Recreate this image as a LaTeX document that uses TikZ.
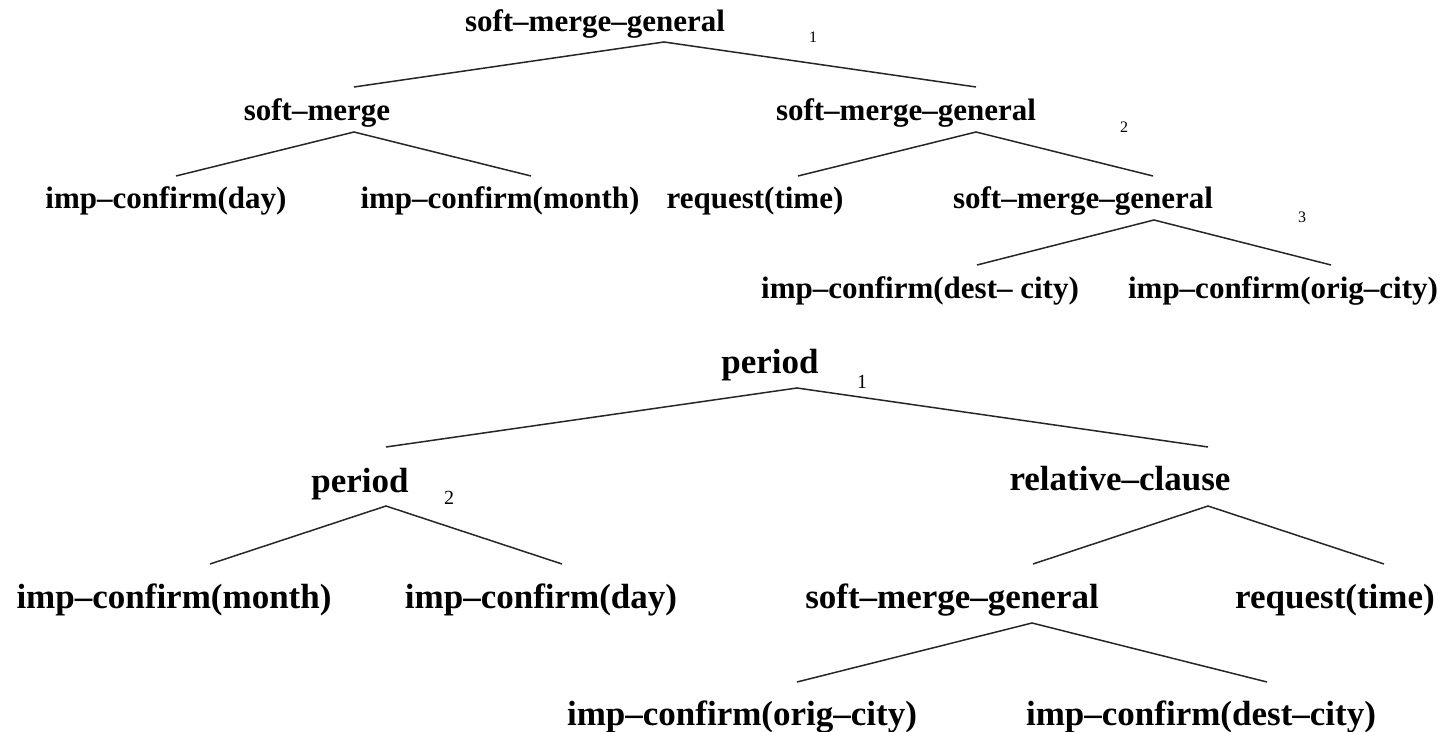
\documentclass[tikz,border=0pt]{standalone}
\usepackage{fontspec}
\setmainfont{Liberation Serif}
\begin{document}
\begin{tikzpicture}[x=0.5pt,y=-0.5pt,
  lbl/.style={font=\fontsize{15.5}{18}\selectfont\bfseries, inner sep=0pt, anchor=base},
  lblb/.style={font=\fontsize{17.5}{20}\selectfont\bfseries, inner sep=0pt, anchor=base},
  num/.style={font=\fontsize{8}{9}\selectfont, inner sep=0pt},
  numb/.style={font=\fontsize{10}{12}\selectfont, inner sep=0pt},
  edge/.style={line width=0.75pt, draw=black!85}]
\useasboundingbox (0,0) rectangle (1443,732);

% ---------- upper tree ----------
\node[lbl] (t-root)  at (595,32)  {soft--merge--general};
\node[num] (t-n1)    at (813,37)  {1};
\node[lbl] (t-sm)    at (317,121) {soft--merge};
\node[lbl] (t-smg2)  at (906,121) {soft--merge--general};
\node[num] (t-n2)    at (1124,127) {2};
\node[lbl] (t-day)   at (166,209) {imp--confirm(day)};
\node[lbl] (t-month) at (500,209) {imp--confirm(month)};
\node[lbl] (t-req)   at (755,209) {request(time)};
\node[lbl] (t-smg3)  at (1083,209) {soft--merge--general};
\node[num] (t-n3)    at (1302,217) {3};
\node[lbl] (t-dest)  at (920,299) {imp--confirm(dest-- city)};
\node[lbl] (t-orig)  at (1283,299) {imp--confirm(orig--city)};

% branch points of the upper tree
\coordinate (t-root-a)  at (664,42);
\coordinate (t-sm-t)    at (354,87);
\coordinate (t-smg2-t)  at (976,87);
\coordinate (t-sm-a)    at (354,132);
\coordinate (t-day-t)   at (176,176);
\coordinate (t-month-t) at (531,176);
\coordinate (t-smg2-a)  at (976,132);
\coordinate (t-req-t)   at (798,176);
\coordinate (t-smg3-t)  at (1153,176);
\coordinate (t-smg3-a)  at (1154,220);
\coordinate (t-dest-t)  at (977,265);
\coordinate (t-orig-t)  at (1331,265);

\draw[edge] (t-sm-t) -- (t-root-a) -- (t-smg2-t);
\draw[edge] (t-day-t) -- (t-sm-a) -- (t-month-t);
\draw[edge] (t-req-t) -- (t-smg2-a) -- (t-smg3-t);
\draw[edge] (t-dest-t) -- (t-smg3-a) -- (t-orig-t);

% ---------- lower tree ----------
\node[lblb] (b-root)   at (770,373)  {period};
\node[numb] (b-n1)     at (862,382)  {1};
\node[lblb] (b-period) at (360,492)  {period};
\node[numb] (b-n2)     at (449,498)  {2};
\node[lblb] (b-rel)    at (1120,490) {relative--clause};
\node[lblb] (b-month)  at (174,608)  {imp--confirm(month)};
\node[lblb] (b-day)    at (541,608)  {imp--confirm(day)};
\node[lblb] (b-smg)    at (952,608)  {soft--merge--general};
\node[lblb] (b-req)    at (1335,608) {request(time)};
\node[lblb] (b-orig)   at (742,725)  {imp--confirm(orig--city)};
\node[lblb] (b-dest)   at (1201,725) {imp--confirm(dest--city)};

% branch points of the lower tree
\coordinate (b-root-a)   at (797,388);
\coordinate (b-period-t) at (386,447);
\coordinate (b-rel-t)    at (1208,447);
\coordinate (b-period-a) at (386,506);
\coordinate (b-month-t)  at (210,564);
\coordinate (b-day-t)    at (562,564);
\coordinate (b-rel-a)    at (1208,506);
\coordinate (b-smg-t)    at (1033,564);
\coordinate (b-req-t)    at (1384,564);
\coordinate (b-smg-a)    at (1032,623);
\coordinate (b-orig-t)   at (797,682);
\coordinate (b-dest-t)   at (1267,682);

\draw[edge] (b-period-t) -- (b-root-a) -- (b-rel-t);
\draw[edge] (b-month-t) -- (b-period-a) -- (b-day-t);
\draw[edge] (b-smg-t) -- (b-rel-a) -- (b-req-t);
\draw[edge] (b-orig-t) -- (b-smg-a) -- (b-dest-t);
\end{tikzpicture}
\end{document}
